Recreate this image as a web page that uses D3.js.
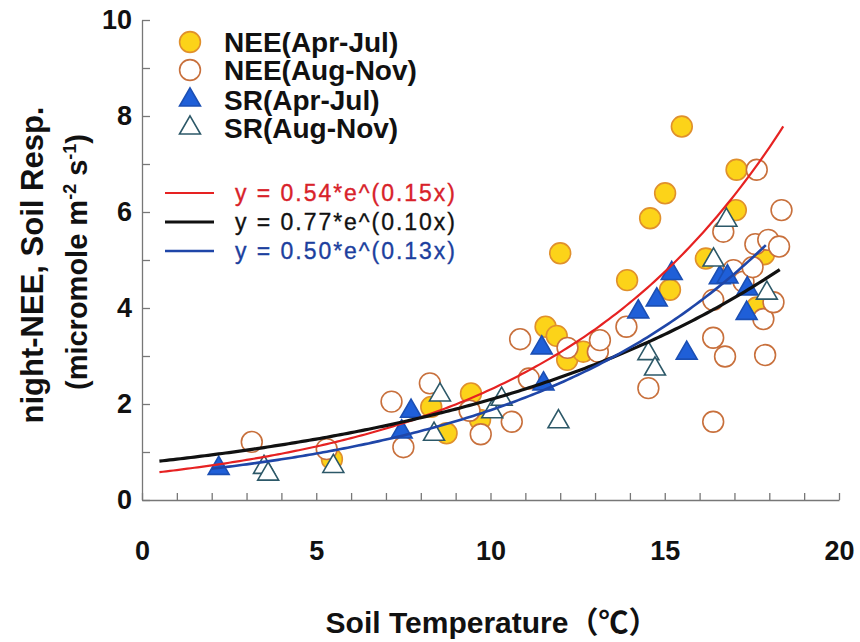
<!DOCTYPE html>
<html><head><meta charset="utf-8">
<script src="https://cdn.jsdelivr.net/npm/d3@7"></script>
<style>
html,body{margin:0;padding:0;background:#fff;}
svg{display:block;font-family:"Liberation Sans",Arial,"Noto Sans CJK SC",sans-serif;}
</style></head>
<body>
<svg id="chart" width="860" height="642"></svg>
<script>
// ---- data ----
const neeAprJul = [[5.45,0.85],[8.3,1.94],[8.74,1.39],[9.44,2.22],[9.7,1.67],[11.58,3.61],[11.9,3.42],[12.2,2.92],[12.66,3.09],[12.0,5.14],[13.92,4.58],[14.58,5.87],[15.01,6.39],[15.15,4.38],[15.49,7.78],[16.18,5.03],[17.04,6.04],[17.06,6.88],[17.64,4.01],[17.85,5.12]];
const neeAugNov = [[3.15,1.21],[5.3,1.06],[7.16,2.05],[7.5,1.1],[8.26,2.43],[9.4,1.86],[9.72,1.37],[10.61,1.63],[10.85,3.35],[11.1,2.53],[12.21,3.17],[13.08,3.09],[13.14,3.33],[13.9,3.61],[14.53,2.33],[16.39,4.17],[16.39,3.38],[16.39,1.63],[16.68,5.59],[16.73,2.99],[16.97,4.79],[17.26,4.55],[17.52,4.85],[17.6,5.33],[17.64,6.88],[17.83,3.77],[17.88,3.02],[17.97,5.42],[18.12,4.12],[18.28,5.28],[18.35,6.04]];
const srAprJul = [[2.2,0.66],[7.45,1.42],[7.72,1.85],[11.47,3.17],[11.52,2.42],[14.24,3.92],[14.77,4.17],[15.2,4.72],[15.63,3.06],[16.58,4.63],[16.8,4.65],[17.37,4.4],[17.35,3.89]];
const srAugNov = [[3.5,0.68],[3.62,0.54],[5.49,0.7],[8.38,1.37],[8.55,2.19],[10.05,1.84],[10.32,2.1],[11.95,1.63],[14.53,3.05],[14.72,2.73],[16.4,5.0],[16.77,5.83],[17.93,4.31]];
const seriesNames = ["NEE(Apr-Jul)","NEE(Aug-Nov)","SR(Apr-Jul)","SR(Aug-Nov)"];
// exponential fits y = a*e^(b*x), drawn over [x0, x1]
const fitLabels = ["y = 0.54*e^(0.15x)","y = 0.77*e^(0.10x)","y = 0.50*e^(0.13x)"];
const fitA = [0.54,0.77,0.50];
const fitB = [0.145,0.10,0.132];
const fitX0 = [0.5,0.5,2.0];
const fitX1 = [18.4,18.35,17.97];
const xTicks = [0,5,10,15,20];
const yTicks = [0,2,4,6,8,10];

// ---- layout ----
const svg = d3.select("#chart");
const x = d3.scaleLinear().domain([0,20]).range([142,839]);
const y = d3.scaleLinear().domain([0,10]).range([500,20]);
const axisCol = "#777";

// minor/major tick marks (inward)
const gx = svg.append("g").attr("transform","translate(0,500)")
  .call(d3.axisBottom(x).tickValues(d3.range(0,21)).tickSizeInner(-7).tickSizeOuter(0).tickFormat(""));
const gy = svg.append("g").attr("transform","translate(142,0)")
  .call(d3.axisLeft(y).tickValues(d3.range(0,11)).tickSizeInner(-8).tickSizeOuter(0).tickFormat(""));
[gx,gy].forEach(g=>{g.selectAll("path,line").attr("stroke",axisCol).attr("stroke-width",1.3);});

// tick labels
const lx = svg.append("g").attr("transform","translate(0,500)")
  .call(d3.axisBottom(x).tickValues(xTicks).tickSize(0).tickPadding(41).tickFormat(d3.format("d")));
lx.select(".domain").remove();
lx.selectAll("text").attr("font-size",27).attr("font-weight","bold").attr("fill","#111").attr("font-family","Liberation Sans, Arial");
const ly = svg.append("g").attr("transform","translate(142,0)")
  .call(d3.axisLeft(y).tickValues(yTicks).tickSize(0).tickPadding(10).tickFormat(d3.format("d")));
ly.select(".domain").remove();
ly.selectAll("text").attr("font-size",27).attr("font-weight","bold").attr("fill","#111").attr("font-family","Liberation Sans, Arial");

// axis titles
svg.append("text").attr("x",492).attr("y",633).attr("text-anchor","middle")
  .attr("font-size",30).attr("font-weight","bold").attr("fill","#111")
  .text("Soil Temperature（℃）");
svg.append("text").attr("transform","translate(43,265) rotate(-90)").attr("text-anchor","middle")
  .attr("font-size",31).attr("font-weight","bold").attr("fill","#111")
  .text("night-NEE, Soil Resp.");
const t2 = svg.append("text").attr("transform","translate(87,262) rotate(-90)").attr("text-anchor","middle")
  .attr("font-size",29).attr("font-weight","bold").attr("fill","#111");
t2.append("tspan").text("(micromole m");
t2.append("tspan").attr("dy",-11).attr("font-size",18).text("-2");
t2.append("tspan").attr("dy",11).text(" s");
t2.append("tspan").attr("dy",-11).attr("font-size",18).text("-1");
t2.append("tspan").attr("dy",11).text(")");

// markers
const circ = d3.symbol().type(d3.symbolCircle).size(340);
const tri = d3.symbol().type(d3.symbolTriangle).size(190);
const styles = [
  {sym:circ, fill:"#fcd319", stroke:"#e0902c"},
  {sym:circ, fill:"#ffffff", stroke:"#c8703c"},
  {sym:tri, fill:"#1f5fd8", stroke:"#1b4fb4"},
  {sym:tri, fill:"#ffffff", stroke:"#2c5868"}
];
[neeAprJul,neeAugNov,srAprJul,srAugNov].forEach((data,i)=>{
  const s = styles[i];
  svg.append("g").selectAll("path").data(data).join("path")
    .attr("d",s.sym).attr("transform",d=>`translate(${x(d[0])},${y(d[1])})`)
    .attr("fill",s.fill).attr("stroke",s.stroke).attr("stroke-width",1.6);
});

// fit curves
const fitCols = ["#e62222","#111111","#1f46a8"];
const fitW = [2.2,3.2,2.6];
fitA.forEach((a,i)=>{
  const pts = d3.range(fitX0[i], fitX1[i]+0.001, 0.1).map(v=>[v, a*Math.exp(fitB[i]*v)]);
  svg.append("path").datum(pts)
    .attr("d", d3.line().x(d=>x(d[0])).y(d=>y(d[1])))
    .attr("fill","none").attr("stroke",fitCols[i]).attr("stroke-width",fitW[i]);
});

// legend (markers)
const legY = [42,70,100,128];
seriesNames.forEach((n,i)=>{
  const s = styles[i];
  svg.append("path").attr("d",s.sym).attr("transform",`translate(190,${legY[i]})`)
    .attr("fill",s.fill).attr("stroke",s.stroke).attr("stroke-width",1.6);
  svg.append("text").attr("x",224).attr("y",legY[i]+10).attr("font-size",28).attr("font-weight","bold")
    .attr("fill","#111").text(n);
});
// legend (fits)
const fitLegY = [193,222,251];
const fitTextCols = ["#d8222a","#111111","#1c3f9e"];
fitLabels.forEach((t,i)=>{
  svg.append("line").attr("x1",165).attr("x2",214).attr("y1",fitLegY[i]).attr("y2",fitLegY[i])
    .attr("stroke",fitCols[i]).attr("stroke-width",fitW[i]);
  svg.append("text").attr("x",235).attr("y",fitLegY[i]+8).attr("font-size",23)
    .attr("fill",fitTextCols[i]).attr("stroke",fitTextCols[i]).attr("stroke-width",0.35)
    .attr("textLength",220).attr("lengthAdjust","spacing").text(t);
});
</script>
</body></html>
